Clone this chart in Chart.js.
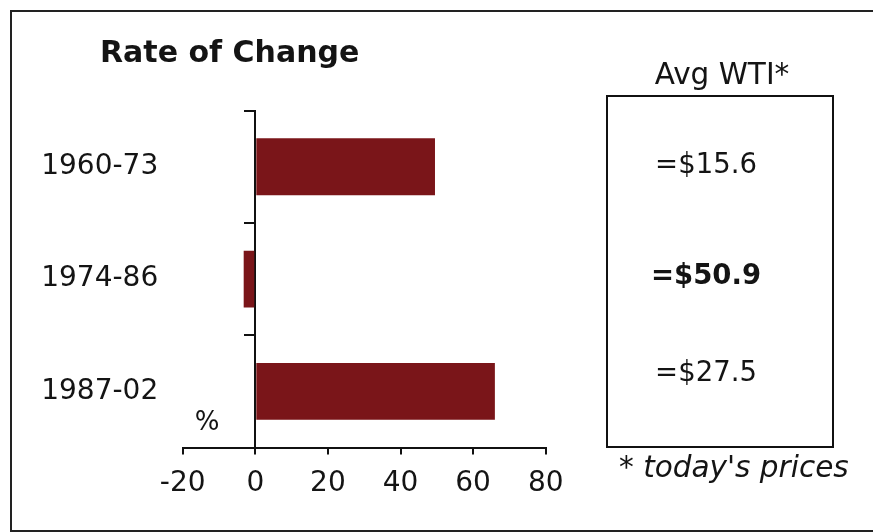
<!DOCTYPE html>
<html>
<head>
<meta charset="utf-8">
<title>Rate of Change</title>
<script src="https://cdn.jsdelivr.net/npm/chart.js@4/dist/chart.umd.min.js"></script>
<style>
  html, body { margin: 0; padding: 0; background: #fff; }
  #wrap { width: 873px; height: 532px; }
</style>
</head>
<body>
<div id="wrap"><canvas id="chart" width="873" height="532"></canvas></div>
<script>
// Periods and the rate of change (%) of each
const categories = ['1960-73', '1974-86', '1987-02'];
const rateOfChange = [49.5, -3.2, 66];
// Average WTI price per period, in today's prices ($)
const avgWti = [15.6, 50.9, 27.5];
// Which average is set in bold
const avgWtiBold = [false, true, false];
// Value axis ticks
const xTicks = [-20, 0, 20, 40, 60, 80];

const FONT = "'DejaVu Sans', Verdana, sans-serif";
const INK = '#141414';
const LINE = '#111';
const BAR = '#7A1519';

// Text and boxes around the plot: frame, title, unit and the price panel
const decorations = {
  id: 'decorations',
  afterDraw(chart) {
    const ctx = chart.ctx;
    ctx.save();

    // outer frame (open on the right)
    ctx.strokeStyle = '#222';
    ctx.lineWidth = 2;
    ctx.beginPath();
    ctx.moveTo(880, 11);
    ctx.lineTo(11, 11);
    ctx.lineTo(11, 531);
    ctx.lineTo(880, 531);
    ctx.stroke();

    ctx.fillStyle = INK;

    // title
    ctx.font = 'bold 30px ' + FONT;
    ctx.textAlign = 'left';
    ctx.textBaseline = 'alphabetic';
    ctx.fillText('Rate of Change', 100, 62);

    // unit
    ctx.font = '26px ' + FONT;
    ctx.textAlign = 'center';
    ctx.textBaseline = 'middle';
    ctx.fillText('%', 207, 423);

    // price panel
    ctx.font = '29.5px ' + FONT;
    ctx.fillText('Avg WTI*', 722, 76);

    ctx.strokeStyle = LINE;
    ctx.lineWidth = 2;
    ctx.strokeRect(607, 96, 226, 351);

    const rowY = [166, 277, 374];
    avgWti.forEach((v, i) => {
      ctx.font = (avgWtiBold[i] ? 'bold ' : '') + '27.5px ' + FONT;
      ctx.fillText('=$' + v.toFixed(1), 706, rowY[i]);
    });

    ctx.font = 'italic 29.5px ' + FONT;
    ctx.textAlign = 'left';
    ctx.fillText("* today's prices", 619, 469);

    ctx.restore();
  }
};

new Chart(document.getElementById('chart'), {
  type: 'bar',
  data: {
    labels: categories,
    datasets: [{
      data: rateOfChange,
      backgroundColor: BAR,
      borderWidth: 0,
      categoryPercentage: 0.507,
      barPercentage: 1.0,
      yAxisID: 'y'
    }]
  },
  options: {
    indexAxis: 'y',
    responsive: false,
    animation: false,
    devicePixelRatio: 1,
    layout: {
      padding: { left: 0, top: 110.7, right: 327.3, bottom: 34.5 }
    },
    plugins: {
      legend: { display: false },
      title: { display: false },
      tooltip: { enabled: false }
    },
    scales: {
      x: {
        type: 'linear',
        position: 'bottom',
        min: -20,
        max: 80,
        afterBuildTicks: s => { s.ticks = xTicks.map(v => ({ value: v })); },
        afterFit: s => { s.height = 50; },
        grid: {
          drawOnChartArea: false,
          drawTicks: true,
          tickLength: 7,
          color: LINE,
          lineWidth: 2
        },
        border: { display: true, color: LINE, width: 2 },
        ticks: {
          color: INK,
          font: { family: FONT, size: 28 },
          padding: 12,
          maxRotation: 0,
          autoSkip: false
        }
      },
      y: {
        type: 'category',
        position: 'left',
        offset: true,
        afterFit: s => { s.width = 182.7; },
        grid: { display: false, drawTicks: false },
        border: { display: false },
        ticks: {
          color: INK,
          font: { family: FONT, size: 28 },
          padding: 24.5,
          autoSkip: false
        }
      },
      // zero line with the category dividers
      yz: {
        type: 'category',
        axis: 'y',
        position: { x: 0 },
        offset: true,
        grid: {
          offset: true,
          drawOnChartArea: false,
          drawTicks: true,
          tickLength: 10,
          color: LINE,
          lineWidth: 2
        },
        border: { display: true, color: LINE, width: 2 },
        ticks: { display: false }
      }
    }
  },
  plugins: [decorations]
});
</script>
</body>
</html>
